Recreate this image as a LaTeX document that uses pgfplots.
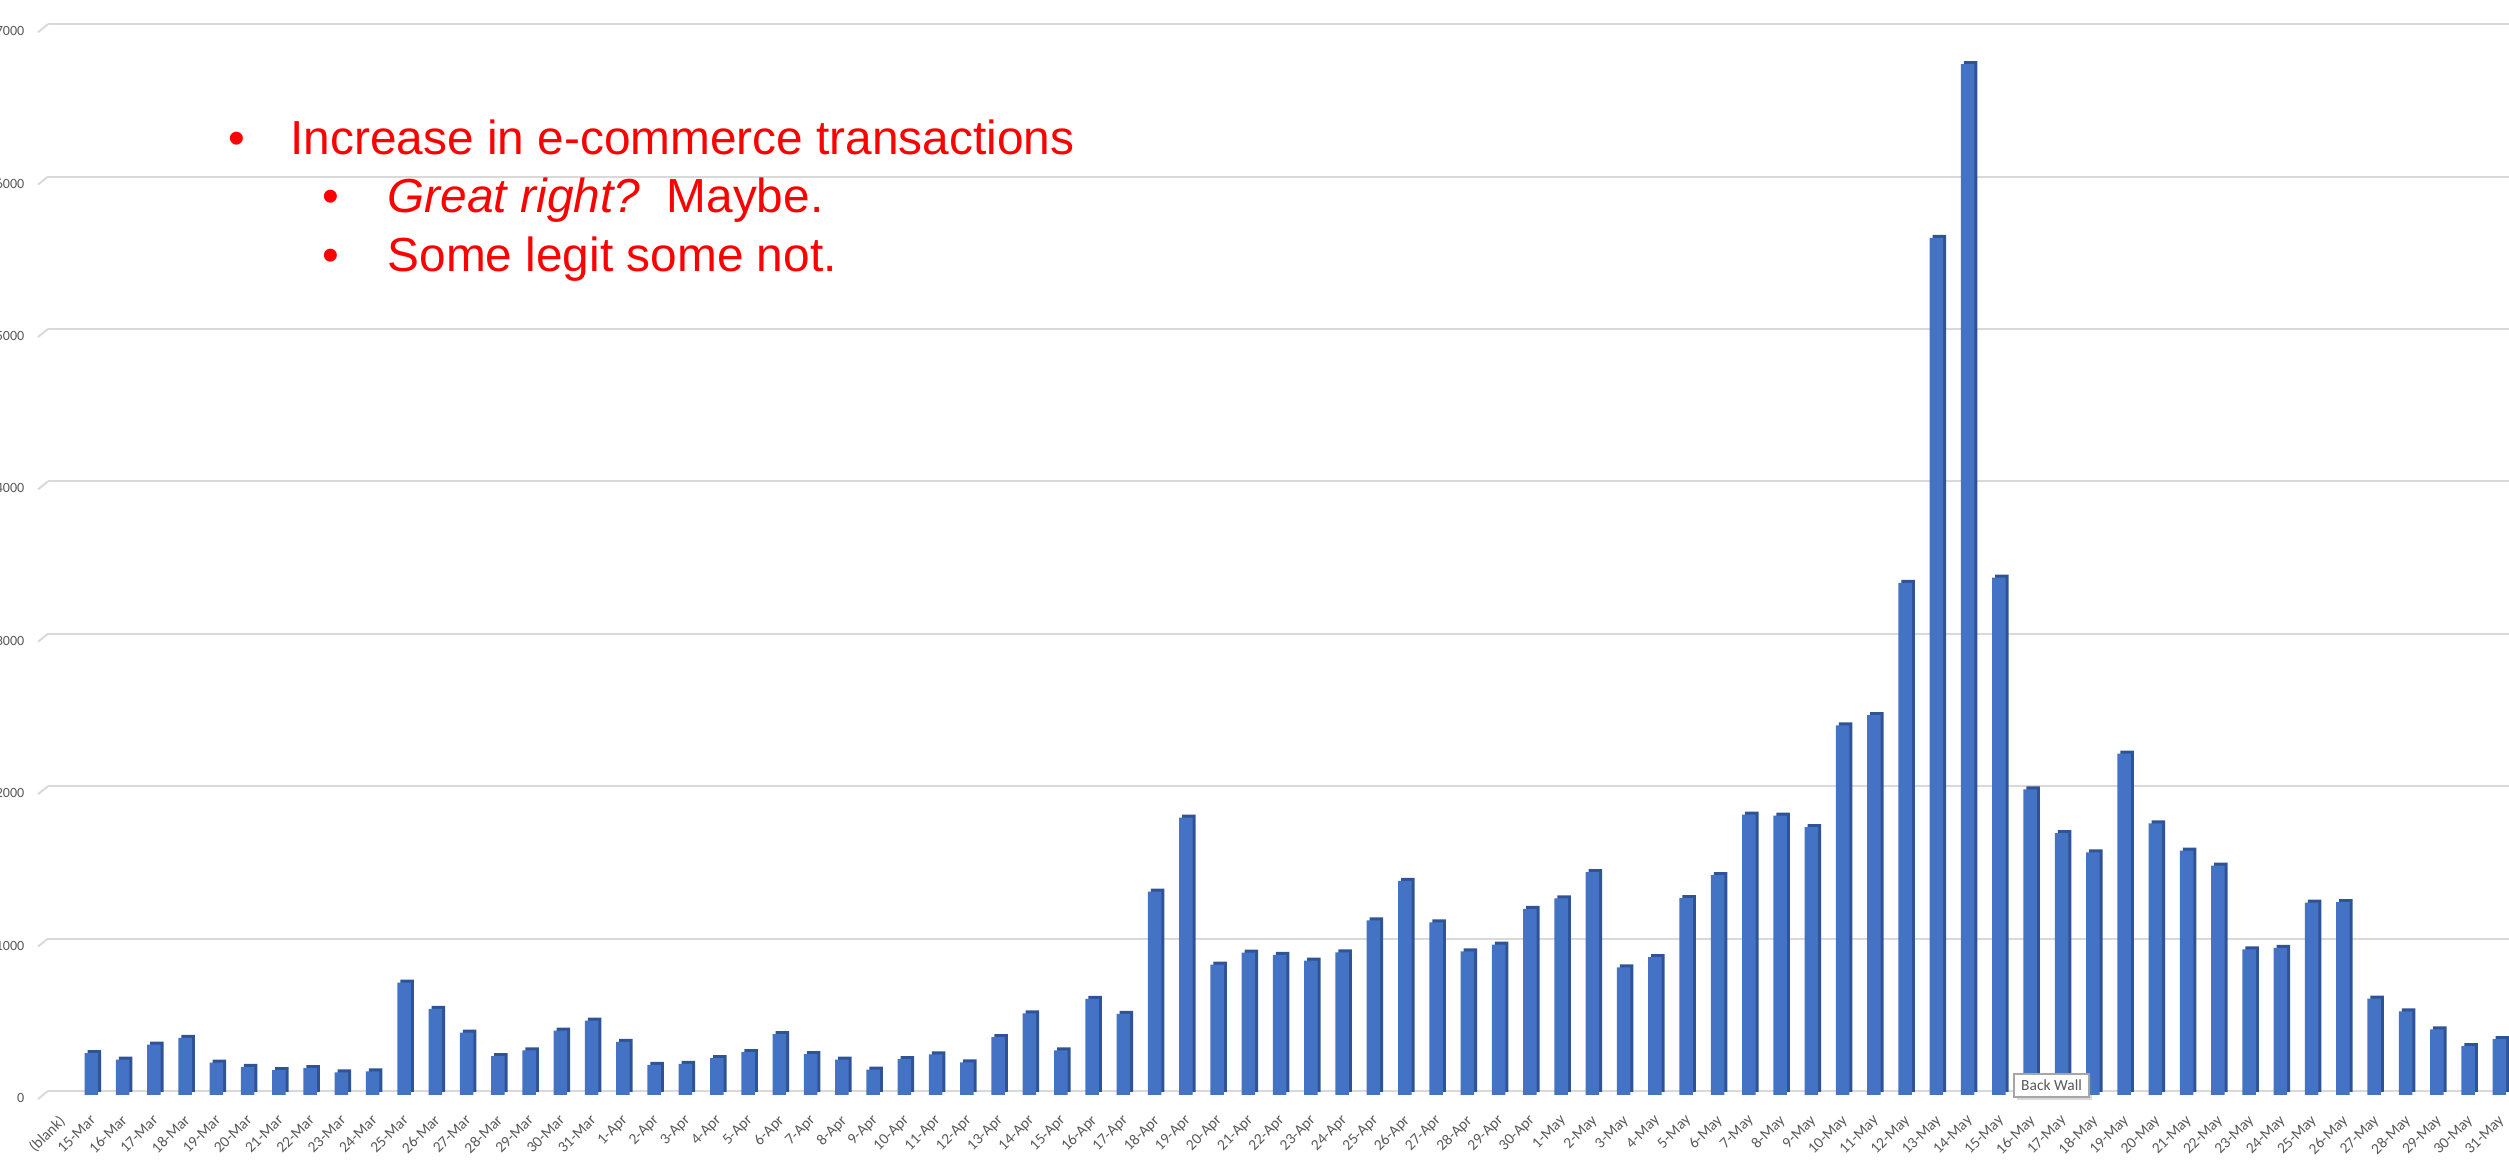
\documentclass[border=0pt]{standalone}
\usepackage{pgfplots}
\usepackage{pgfplotstable}
\pgfplotsset{compat=1.18}
\usepackage{fontspec}
\setmainfont{Liberation Sans}
\newfontfamily\carlito{Carlito}
\usetikzlibrary{shadows}
\definecolor{barblue}{HTML}{4472C4}
\definecolor{barside}{HTML}{2F5496}
\definecolor{gridgray}{HTML}{D9D9D9}
\definecolor{labgray}{HTML}{595959}
\definecolor{txtred}{HTML}{FF0000}

\pgfplotstableread{
x y
1 275
2 232
3 330
4 374
5 212
6 184
7 164
8 177
9 149
10 155
11 738
12 565
13 410
14 255
15 293
16 422
17 488
18 348
19 197
20 205
21 242
22 282
23 400
24 268
25 232
26 166
27 236
28 266
29 214
30 380
31 535
32 292
33 630
34 532
35 1335
36 1820
37 855
38 934
39 920
40 882
41 936
42 1145
43 1405
44 1132
45 943
46 987
47 1222
48 1290
49 1462
50 838
51 905
52 1292
53 1442
54 1840
55 1833
56 1757
57 2425
58 2492
59 3360
60 5625
61 6765
62 3395
63 2005
64 1718
65 1592
66 2240
67 1782
68 1603
69 1505
70 955
71 965
72 1262
73 1265
74 632
75 549
76 430
77 320
78 367
}\datatab

\begin{document}
\begin{tikzpicture}
\useasboundingbox (0,0) rectangle (25.09,11.67);
\clip (0,0) rectangle (25.09,11.67);
\begin{axis}[
  at={(0.48cm,0.76cm)}, anchor=south west,
  scale only axis, width=24.61cm, height=10.91cm,
  xmin=-0.384, xmax=78.31, ymin=0, ymax=7159,
  axis line style={draw=none},
  major tick length=0pt,
  ymajorgrids, xmajorgrids=false,
  grid style={gridgray, line width=0.2mm},
  ytick={0,1000,...,7000},
  scaled y ticks=false,
  /pgf/number format/assume math mode=true,
  /pgf/number format/set thousands separator={},
  xtick={0,...,78},
  xticklabels={(blank),15-Mar,16-Mar,17-Mar,18-Mar,19-Mar,20-Mar,21-Mar,22-Mar,23-Mar,24-Mar,25-Mar,26-Mar,27-Mar,28-Mar,29-Mar,30-Mar,31-Mar,1-Apr,2-Apr,3-Apr,4-Apr,5-Apr,6-Apr,7-Apr,8-Apr,9-Apr,10-Apr,11-Apr,12-Apr,13-Apr,14-Apr,15-Apr,16-Apr,17-Apr,18-Apr,19-Apr,20-Apr,21-Apr,22-Apr,23-Apr,24-Apr,25-Apr,26-Apr,27-Apr,28-Apr,29-Apr,30-Apr,1-May,2-May,3-May,4-May,5-May,6-May,7-May,8-May,9-May,10-May,11-May,12-May,13-May,14-May,15-May,16-May,17-May,18-May,19-May,20-May,21-May,22-May,23-May,24-May,25-May,26-May,27-May,28-May,29-May,30-May,31-May},
  ticklabel style={text=labgray},
  yticklabel style={font=\carlito\fontsize{4}{5}\selectfont, anchor=east, inner sep=0pt, xshift=-2.3mm, yshift=-0.7mm},
  xticklabel style={font=\carlito\fontsize{4.4}{5}\selectfont, xshift=-0.2mm, yshift=-2.2mm, rotate=45, anchor=north east, inner sep=0pt},
  clip=false,
  ybar, bar width=1.35mm,
]
\pgfplotsinvokeforeach{0,1000,2000,3000,4000,5000,6000,7000}{
  \draw[gridgray, line width=0.2mm] (axis cs:-0.384,#1) -- ++(-1mm,-0.8mm);
}
\addplot[fill=barside, draw=none, bar shift=0.3mm, yshift=-0.1mm] table[x=x,y=y]{\datatab};
\addplot[fill=barblue, draw=none, bar shift=0pt, yshift=-0.4mm] table[x=x,y=y]{\datatab};
\end{axis}
\begin{scope}[every node/.style={inner sep=0pt, text=txtred, font=\fontsize{13.6}{16}\selectfont}]
\node[anchor=base] at (2.37,10.12) {•};
\node[anchor=base west] at (2.90,10.12) {Increase in e-commerce transactions};
\node[anchor=base] at (3.31,9.54) {•};
\node[anchor=base west] at (3.87,9.54) {\textit{Great right?}\ \ Maybe.};
\node[anchor=base] at (3.31,8.95) {•};
\node[anchor=base west] at (3.87,8.95) {Some legit some not.};
\end{scope}
\node[draw=gray!70, fill=white, drop shadow={opacity=0.3, shadow xshift=0.3mm, shadow yshift=-0.3mm}, inner sep=0pt, minimum width=7.5mm, minimum height=2.3mm, font=\carlito\fontsize{4.4}{5}\selectfont, text=labgray] at (20.515,0.815) {Back Wall};
\end{tikzpicture}
\end{document}
